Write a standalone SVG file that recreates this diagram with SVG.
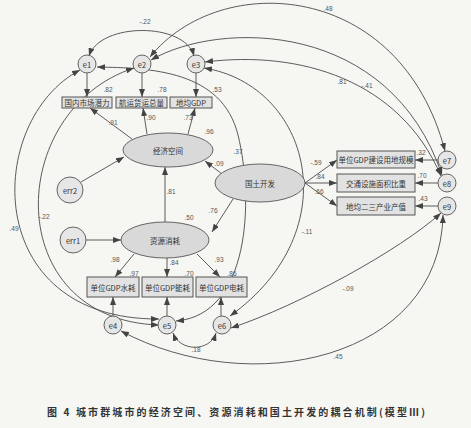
<svg xmlns="http://www.w3.org/2000/svg" width="471" height="428" viewBox="0 0 471 428">
<defs>
<marker id="ah" viewBox="0 0 8 6" refX="8" refY="3" markerWidth="8" markerHeight="6" markerUnits="userSpaceOnUse" orient="auto-start-reverse">
<path d="M0,0 L8,3 L0,6 Z" fill="#444"/>
</marker>
<style>
.ln{fill:none;stroke:#4a4a4a;stroke-width:0.9}
.one{marker-end:url(#ah)}
.two{marker-start:url(#ah);marker-end:url(#ah)}
.box{fill:#e2e2e2;stroke:#555;stroke-width:1}
.ell{fill:#d9d9d9;stroke:#555;stroke-width:0.9}
.cir{fill:#e6e6e6;stroke:#555;stroke-width:0.9}
.t{font-family:"Noto Sans CJK SC","Liberation Sans",sans-serif;font-size:7.5px;fill:#333;text-anchor:middle;dominant-baseline:central}
.n{font-family:"Liberation Sans",sans-serif;font-size:6.5px;fill:#555;text-anchor:middle}
.cap{font-family:"Noto Sans CJK SC",sans-serif;font-size:10px;font-weight:bold;fill:#333}
</style>
</defs>
<rect width="471" height="428" fill="#f6f6f3"/>

<g id="connectors">
<path class="ln one" d="M87,73 L87,97"/>
<path class="ln one" d="M142,73 L142,97"/>
<path class="ln one" d="M196,73 L196,97"/>
<path class="ln one" d="M132,139 L90,108"/>
<path class="ln one" d="M147,134 L143,108"/>
<path class="ln one" d="M188,134 L195,108"/>
<path class="ln one" d="M81,182 L124,157"/>
<path class="ln one" d="M165,222 L165,167"/>
<path class="ln one" d="M222,174 L205,161"/>
<path class="ln one" d="M233,199 L212,232"/>
<path class="ln one" d="M86,240 L121,240"/>
<path class="ln one" d="M134,254 L115,277"/>
<path class="ln one" d="M167,258 L167,277"/>
<path class="ln one" d="M197,254 L220,277"/>
<path class="ln one" d="M113,316 L113,297"/>
<path class="ln one" d="M167,316 L167,297"/>
<path class="ln one" d="M221,316 L221,297"/>
<path class="ln one" d="M305,183 L337,160"/>
<path class="ln one" d="M305,183 L337,183"/>
<path class="ln one" d="M305,183 L337,206"/>
<path class="ln one" d="M438,160 L415,160"/>
<path class="ln one" d="M438,183 L415,183"/>
<path class="ln one" d="M438,206 L415,206"/>
<path class="ln two" d="M89,56 C100,22 185,22 194,56"/>
<path class="ln two" d="M150,57 C220,-30 400,-20 445,151"/>
<path class="ln two" d="M151,60 C220,20 390,20 442,175"/>
<path class="ln two" d="M205,62 C300,50 400,80 441,176"/>
<path class="ln two" d="M204,68 C310,85 350,230 230,316"/>
<path class="ln two" d="M97,67 C150,68 222,70 238,135 S250,315 176,321"/>
<path class="ln two" d="M80,70 C-15,120 -20,320 159,319"/>
<path class="ln two" d="M134,68 C5,110 0,320 159,325"/>
<path class="ln two" d="M173,333 C180,352 210,352 216,333"/>
<path class="ln two" d="M441,213 C400,250 300,305 231,328"/>
<path class="ln two" d="M443,215 C440,360 250,400 121,331"/>
</g>

<g id="labels">
<text class="n" x="145" y="24">-.22</text>
<text class="n" x="328" y="11">.48</text>
<text class="n" x="342" y="84">.81</text>
<text class="n" x="367" y="88">-.41</text>
<text class="n" x="108" y="92">.82</text>
<text class="n" x="162" y="92">.78</text>
<text class="n" x="217" y="92">.53</text>
<text class="n" x="113" y="125">.91</text>
<text class="n" x="151" y="120">.90</text>
<text class="n" x="188" y="120">.73</text>
<text class="n" x="209" y="134">.96</text>
<text class="n" x="238" y="154">.37</text>
<text class="n" x="219" y="166">.09</text>
<text class="n" x="171" y="194">.81</text>
<text class="n" x="213" y="213">.76</text>
<text class="n" x="189" y="220">.50</text>
<text class="n" x="44" y="219">-.22</text>
<text class="n" x="14" y="231">.49</text>
<text class="n" x="307" y="234">-.11</text>
<text class="n" x="115" y="262">.98</text>
<text class="n" x="174" y="265">.84</text>
<text class="n" x="219" y="262">.93</text>
<text class="n" x="134" y="276">.97</text>
<text class="n" x="189" y="276">.70</text>
<text class="n" x="232" y="276">.86</text>
<text class="n" x="316" y="165">-.59</text>
<text class="n" x="320" y="179">.84</text>
<text class="n" x="319" y="194">.66</text>
<text class="n" x="421" y="155">.32</text>
<text class="n" x="422" y="178">.70</text>
<text class="n" x="423" y="201">.43</text>
<text class="n" x="348" y="291">-.09</text>
<text class="n" x="338" y="359">.45</text>
<text class="n" x="196" y="352">.18</text>
</g>

<g id="e1"><circle class="cir" cx="87" cy="64" r="9"/><text class="t" x="87" y="64">e1</text></g>
<g id="e2"><circle class="cir" cx="142" cy="64" r="9"/><text class="t" x="142" y="64">e2</text></g>
<g id="e3"><circle class="cir" cx="196" cy="64" r="9"/><text class="t" x="196" y="64">e3</text></g>
<g id="box1"><rect class="box" x="62" y="97" width="50" height="11"/><text class="t" x="87" y="102.5">国内市场潜力</text></g>
<g id="box2"><rect class="box" x="116" y="97" width="51" height="11"/><text class="t" x="141.5" y="102.5">航运货运总量</text></g>
<g id="box3"><rect class="box" x="170" y="97" width="42" height="11"/><text class="t" x="191" y="102.5">地均GDP</text></g>
<g id="econ"><ellipse class="ell" cx="168" cy="150" rx="45" ry="17"/><text class="t" x="168" y="150">经济空间</text></g>
<g id="err2"><circle class="cir" cx="70" cy="190" r="13"/><text class="t" x="70" y="190">err2</text></g>
<g id="err1"><circle class="cir" cx="73" cy="240" r="13"/><text class="t" x="73" y="240">err1</text></g>
<g id="resource"><ellipse class="ell" cx="165" cy="240" rx="44" ry="18"/><text class="t" x="165" y="240">资源消耗</text></g>
<g id="land"><ellipse class="ell" cx="260" cy="183" rx="45" ry="19"/><text class="t" x="260" y="183">国土开发</text></g>
<g id="box7"><rect class="box" x="337" y="151" width="78" height="17"/><text class="t" x="376" y="159.5">单位GDP建设用地规模</text></g>
<g id="box8"><rect class="box" x="337" y="174" width="78" height="18"/><text class="t" x="376" y="183">交通设施面积比重</text></g>
<g id="box9"><rect class="box" x="337" y="197" width="78" height="18"/><text class="t" x="376" y="206">地均二三产业产值</text></g>
<g id="e7"><circle class="cir" cx="447" cy="160" r="9"/><text class="t" x="447" y="160">e7</text></g>
<g id="e8"><circle class="cir" cx="447" cy="183" r="9"/><text class="t" x="447" y="183">e8</text></g>
<g id="e9"><circle class="cir" cx="447" cy="206" r="9"/><text class="t" x="447" y="206">e9</text></g>
<g id="box4"><rect class="box" x="87" y="277" width="52" height="20"/><text class="t" x="113" y="287">单位GDP水耗</text></g>
<g id="box5"><rect class="box" x="142" y="277" width="51" height="20"/><text class="t" x="167.5" y="287">单位GDP能耗</text></g>
<g id="box6"><rect class="box" x="196" y="277" width="51" height="20"/><text class="t" x="221.5" y="287">单位GDP电耗</text></g>
<g id="e4"><circle class="cir" cx="113" cy="325" r="9"/><text class="t" x="113" y="325">e4</text></g>
<g id="e5"><circle class="cir" cx="167" cy="325" r="9"/><text class="t" x="167" y="325">e5</text></g>
<g id="e6"><circle class="cir" cx="222" cy="325" r="9"/><text class="t" x="222" y="325">e6</text></g>

<text class="cap" x="47" y="416" textLength="378" lengthAdjust="spacing">图 4   城市群城市的经济空间、资源消耗和国土开发的耦合机制(模型Ⅲ)</text>
</svg>
